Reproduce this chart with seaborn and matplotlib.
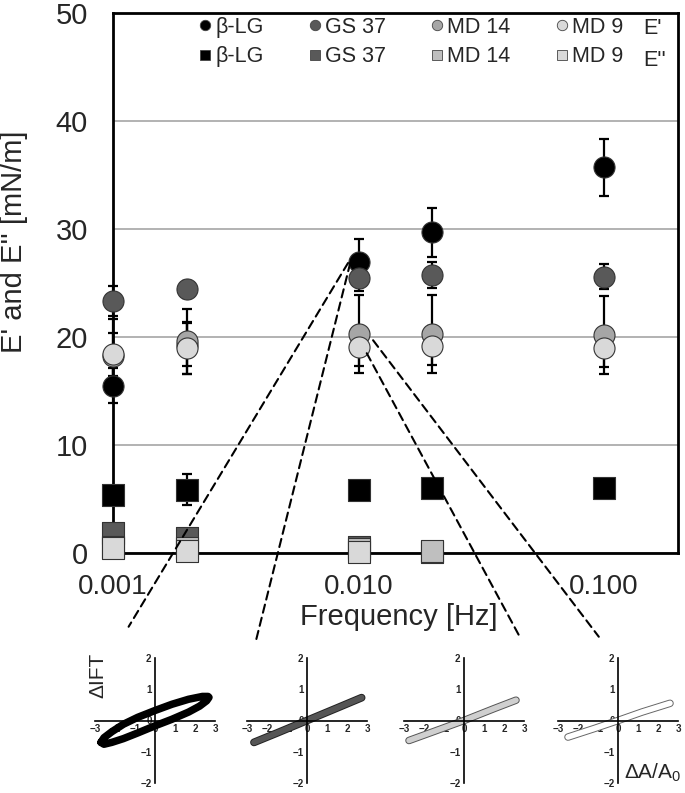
import matplotlib
matplotlib.use('Agg')
import matplotlib.pyplot as plt
import matplotlib.patheffects as pe
from matplotlib.lines import Line2D
from matplotlib.patches import ConnectionPatch
from matplotlib.ticker import FixedLocator, NullLocator, FuncFormatter
import seaborn as sns

sns.set_style('white')
plt.rcParams['font.family'] = ['Liberation Sans', 'DejaVu Sans']
plt.rcParams['mathtext.fontset'] = 'custom'
plt.rcParams['mathtext.rm'] = 'Liberation Sans'

# frequencies [Hz]
freq = [0.001, 0.002, 0.01, 0.02, 0.1]
samples = ['β-LG', 'GS 37', 'MD 14', 'MD 9']

# E' (storage modulus) [mN/m] and error
e1_blg = [15.5, 19.3, 26.9, 29.7, 35.7]
e1_gs37 = [23.3, 24.4, 25.5, 25.7, 25.6]
e1_md14 = [18.2, 19.6, 20.3, 20.3, 20.2]
e1_md9 = [18.4, 19.0, 19.1, 19.2, 19.0]
e1_blg_err = [1.6, 2.0, 2.2, 2.25, 2.6]
e1_gs37_err = [1.4, 0.8, 1.2, 1.2, 1.2]
e1_md14_err = [3.5, 3.0, 3.6, 3.6, 3.6]
e1_md9_err = [2.0, 2.4, 1.8, 1.8, 1.8]

# E'' (loss modulus) [mN/m] and error
nan = float('nan')
e2_blg = [5.4, 5.85, 5.85, 6.0, 6.0]
e2_gs37 = [1.85, 1.4, 0.55, 0.1, nan]
e2_md14 = [0.55, 0.5, 0.4, 0.2, nan]
e2_md9 = [0.45, 0.15, 0.1, nan, nan]
e2_blg_err = [0.3, 1.45, 0.3, 0.3, 0.3]

# Lissajous plots at 0.01 Hz (dA/A0 vs dIFT)
liss_blg_x = [-2.70, -2.55, -2.16, -1.58, -0.87, 0.0, 0.85, 1.68, 2.37, 2.65, 2.70,
              2.58, 2.23, 1.68, 0.85, 0.0, -0.87, -1.58, -2.16, -2.55, -2.70]
liss_blg_y = [-0.70, -0.55, -0.36, -0.12, 0.10, 0.32, 0.52, 0.68, 0.77, 0.77, 0.74,
              0.63, 0.46, 0.27, 0.04, -0.17, -0.40, -0.58, -0.70, -0.76, -0.70]
liss_gs37_x = [-2.65, -1.5, 0.0, 1.5, 2.73]
liss_gs37_y = [-0.70, -0.40, 0.0, 0.40, 0.73]
liss_md14_x = [-2.75, -1.5, 0.0, 1.5, 2.6]
liss_md14_y = [-0.64, -0.35, 0.0, 0.38, 0.65]
liss_md9_x = [-2.5, -1.2, 0.0, 1.2, 2.6]
liss_md9_y = [-0.53, -0.26, 0.0, 0.27, 0.55]

circ_colors = ['#000000', '#595959', '#a6a6a6', '#d9d9d9']
sq_colors = ['#000000', '#595959', '#bfbfbf', '#d9d9d9']

fig = plt.figure(figsize=(6.85, 7.93), dpi=100)
W, H = 685, 793
ax = fig.add_axes([113 / W, 1 - 553 / H, 565 / W, 540 / H])

e1 = [e1_blg, e1_gs37, e1_md14, e1_md9]
e1_err = [e1_blg_err, e1_gs37_err, e1_md14_err, e1_md9_err]
e2 = [e2_blg, e2_gs37, e2_md14, e2_md9]

# error bars behind all markers
for vals, err in zip(e1, e1_err):
    ax.errorbar(freq, vals, yerr=err, fmt='none', ecolor='black', elinewidth=1.6,
                capsize=3.5, capthick=1.6, zorder=3, clip_on=False)
ax.errorbar(freq, e2_blg, yerr=e2_blg_err, fmt='none', ecolor='black', elinewidth=1.6,
            capsize=3.5, capthick=1.6, zorder=3, clip_on=False)

for i, vals in enumerate(e1):
    sns.scatterplot(x=freq, y=vals, ax=ax, marker='o', s=230, color=circ_colors[i],
                    edgecolor='#333333', linewidth=0.8, zorder=4 + i, clip_on=False, legend=False)
for i, vals in enumerate(e2):
    sns.scatterplot(x=freq, y=vals, ax=ax, marker='s', s=230, color=sq_colors[i],
                    edgecolor='#333333', linewidth=0.8, zorder=4 + i, clip_on=False, legend=False)

ax.set_xscale('log')
ax.set_xlim(0.001, 0.2)
ax.set_ylim(0, 50)
ax.xaxis.set_major_locator(FixedLocator([0.001, 0.01, 0.1]))
ax.xaxis.set_minor_locator(NullLocator())
ax.xaxis.set_major_formatter(FuncFormatter(lambda v, p: f'{v:.3f}'))
ax.set_yticks([0, 10, 20, 30, 40, 50])
ax.yaxis.grid(True, color='#a6a6a6', lw=1.2)
ax.set_axisbelow(True)
for s in ax.spines.values():
    s.set_color('black')
    s.set_linewidth(2)
ax.tick_params(axis='y', direction='out', length=6, width=2, labelsize=21, pad=12, color='black')
ax.tick_params(axis='x', direction='out', length=5, width=2, labelsize=20, pad=10, color='black')

ax.set_ylabel("E' and E'' [mN/m]", fontsize=21)
ax.yaxis.set_label_coords(-0.150, 0.576)
ax.set_xlabel('Frequency [Hz]', fontsize=21)
ax.xaxis.set_label_coords(0.506, -0.092)

# legend: circles (E') on first row, squares (E'') on second row
handles, labels = [], []
for i, name in enumerate(samples):
    handles.append(Line2D([], [], ls='', marker='o', markersize=7.5, mfc=circ_colors[i],
                          mec='#444444', mew=0.6))
    labels.append(name)
    handles.append(Line2D([], [], ls='', marker='s', markersize=7.5, mfc=sq_colors[i],
                          mec='#444444', mew=0.6))
    labels.append(name)
ax.legend(handles, labels, ncol=4, loc='upper left', bbox_to_anchor=(0.152, 0.993),
          frameon=False, fontsize=15.5, handlelength=0.6, handletextpad=0.15,
          columnspacing=2.1, labelspacing=0.4, borderpad=0, borderaxespad=0)
ax.text(0.938, 0.972, "E'", transform=ax.transAxes, fontsize=15.5, va='center')
ax.text(0.938, 0.912, "E''", transform=ax.transAxes, fontsize=15.5, va='center')

# Lissajous insets
ins_left = [95, 247, 404, 558]
liss = [(liss_blg_x, liss_blg_y, '#000000', '#000000', 4.0),
        (liss_gs37_x, liss_gs37_y, '#555555', '#222222', 4.2),
        (liss_md14_x, liss_md14_y, '#cfcfcf', '#555555', 4.0),
        (liss_md9_x, liss_md9_y, '#ffffff', '#666666', 4.0)]
insets = []
for left, (lx, ly, fc, ec, lw) in zip(ins_left, liss):
    ins = fig.add_axes([left / W, 1 - 783 / H, 120 / W, 125 / H])
    ins.patch.set_alpha(0)
    sns.lineplot(x=lx, y=ly, ax=ins, sort=False, estimator=None, color=fc, lw=lw,
                 solid_capstyle='round', solid_joinstyle='round',
                 path_effects=[pe.Stroke(linewidth=lw + 1.4, foreground=ec), pe.Normal()])
    ins.set_xlim(-3, 3)
    ins.set_ylim(-2, 2)
    ins.spines['left'].set_position('zero')
    ins.spines['bottom'].set_position('zero')
    ins.spines['top'].set_visible(False)
    ins.spines['right'].set_visible(False)
    for k in ('left', 'bottom'):
        ins.spines[k].set_color('black')
        ins.spines[k].set_linewidth(1.2)
    ins.set_xticks([-3, -2, -1, 0, 1, 2, 3])
    ins.set_yticks([-2, -1, 0, 1, 2])
    ins.tick_params(direction='inout', length=3, width=1, labelsize=7, pad=1, color='black')
    for t in ins.get_xticklabels() + ins.get_yticklabels():
        t.set_fontweight('bold')
    insets.append(ins)

fig.text(98 / W, 1 - 675 / H, 'ΔIFT', rotation=90, ha='center', va='center', fontsize=15)
fig.text(653 / W, 1 - 773 / H, 'ΔA/A$_0$', ha='center', va='center', fontsize=15)

# dashed connectors from the 0.01 Hz points to the Lissajous plots
conns = [((0.00906, 26.85), insets[0], (0.28, 1.25)),
         ((0.00925, 26.85), insets[1], (0.075, 1.14)),
         ((0.0108, 18.5), insets[2], (0.97, 1.16)),
         ((0.01146, 19.7), insets[3], (0.34, 1.17))]
for xyA, ins, xyB in conns:
    con = ConnectionPatch(xyA=xyA, coordsA=ax.transData, xyB=xyB, coordsB=ins.transAxes,
                          color='black', lw=1.5, linestyle=(0, (4, 2.5)))
    fig.add_artist(con)

fig.savefig('out.png', dpi=100)
